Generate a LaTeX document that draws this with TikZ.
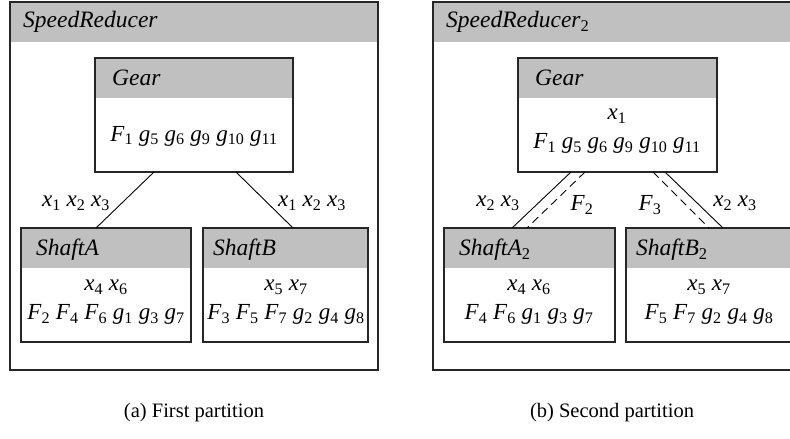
\documentclass[tikz,border=0pt]{standalone}
\usepackage{fontspec}
\setmainfont{Liberation Serif}
\usetikzlibrary{calc}
\newcommand\sv[2]{\textit{#1}\textsubscript{#2}}
\definecolor{hdr}{RGB}{192,192,192}
\begin{document}
\begin{tikzpicture}[x=1pt,y=-1pt,
  unitbox/.style={draw=black!85, line width=1.2pt, fill=white, anchor=north west,
    inner sep=0pt, outer sep=0pt,
    path picture={\fill[hdr] (path picture bounding box.north west)
      rectangle ([yshift=-40pt]path picture bounding box.north east);}},
  hdrtxt/.style={anchor=west, inner sep=0pt, font=\itshape\fontsize{23.5}{25}\selectfont},
  bodytxt/.style={align=center, inner sep=0pt, font=\fontsize{23}{29}\selectfont},
  lbl/.style={inner sep=0pt, font=\fontsize{23}{25}\selectfont},
  captxt/.style={inner sep=0pt, font=\fontsize{20.5}{23}\selectfont},
  link/.style={line width=0.9pt},
  dlink/.style={line width=0.9pt, dash pattern=on 8pt off 5pt}]
\useasboundingbox (0,0) rectangle (790,439);
\clip (0,0) rectangle (790,439);

% ---------- first partition ----------
\node[unitbox, minimum width=368pt, minimum height=368pt] (outA) at (10,2) {};
\node[hdrtxt] at (23,22) {SpeedReducer};
\node[unitbox, minimum width=198pt, minimum height=114pt] (gearA) at (95,58) {};
\node[hdrtxt] at (112,78) {Gear};
\node[bodytxt] at (194,136) {\sv{F}{1} \sv{g}{5} \sv{g}{6} \sv{g}{9} \sv{g}{10} \sv{g}{11}};
\node[unitbox, minimum width=170pt, minimum height=114pt] (sA) at (21,228) {};
\node[hdrtxt] at (36,250) {ShaftA};
\node[bodytxt] at (106,302) {\sv{x}{4} \sv{x}{6}\\\sv{F}{2} \sv{F}{4} \sv{F}{6} \sv{g}{1} \sv{g}{3} \sv{g}{7}};
\node[unitbox, minimum width=165pt, minimum height=114pt] (sB) at (203,228) {};
\node[hdrtxt] at (213,250) {ShaftB};
\node[bodytxt] at (286,302) {\sv{x}{5} \sv{x}{7}\\\sv{F}{3} \sv{F}{5} \sv{F}{7} \sv{g}{2} \sv{g}{4} \sv{g}{8}};
\draw[link] ($(gearA.south west)+(59,0)$) -- ($(sA.north west)+(75,0)$);
\draw[link] ($(gearA.south west)+(141,0)$) -- ($(sB.north west)+(90,0)$);
\node[lbl] at (76,203) {\sv{x}{1} \sv{x}{2} \sv{x}{3}};
\node[lbl] at (312,203) {\sv{x}{1} \sv{x}{2} \sv{x}{3}};
\node[captxt] at (194,413) {(a) First partition};

% ---------- second partition ----------
\node[unitbox, minimum width=369pt, minimum height=368pt] (outB) at (433,2) {};
\node[hdrtxt] at (446,22) {SpeedReducer\textsubscript{\upshape 2}};
\node[unitbox, minimum width=199pt, minimum height=114pt] (gearB) at (518,58) {};
\node[hdrtxt] at (535,78) {Gear};
\node[bodytxt] at (617,131) {\sv{x}{1}\\\sv{F}{1} \sv{g}{5} \sv{g}{6} \sv{g}{9} \sv{g}{10} \sv{g}{11}};
\node[unitbox, minimum width=171pt, minimum height=114pt] (sA2) at (444,228) {};
\node[hdrtxt] at (459,250) {ShaftA\textsubscript{\upshape 2}};
\node[bodytxt] at (529,302) {\sv{x}{4} \sv{x}{6}\\\sv{F}{4} \sv{F}{6} \sv{g}{1} \sv{g}{3} \sv{g}{7}};
\node[unitbox, minimum width=171pt, minimum height=114pt] (sB2) at (626,228) {};
\node[hdrtxt] at (636,250) {ShaftB\textsubscript{\upshape 2}};
\node[bodytxt] at (709,302) {\sv{x}{5} \sv{x}{7}\\\sv{F}{5} \sv{F}{7} \sv{g}{2} \sv{g}{4} \sv{g}{8}};
\draw[link]  ($(gearB.south west)+(53,0)$)  -- ($(sA2.north west)+(68,0)$);
\draw[dlink] ($(gearB.south west)+(67,0)$)  -- ($(sA2.north west)+(83,0)$);
\draw[dlink] ($(gearB.south west)+(135,0)$) -- ($(sB2.north west)+(83,0)$);
\draw[link]  ($(gearB.south west)+(147,0)$) -- ($(sB2.north west)+(97,0)$);
\node[lbl] at (498,203) {\sv{x}{2} \sv{x}{3}};
\node[lbl] at (582,205) {\sv{F}{2}};
\node[lbl] at (650,205) {\sv{F}{3}};
\node[lbl] at (735,203) {\sv{x}{2} \sv{x}{3}};
\node[captxt] at (612,413) {(b) Second partition};
\end{tikzpicture}
\end{document}
